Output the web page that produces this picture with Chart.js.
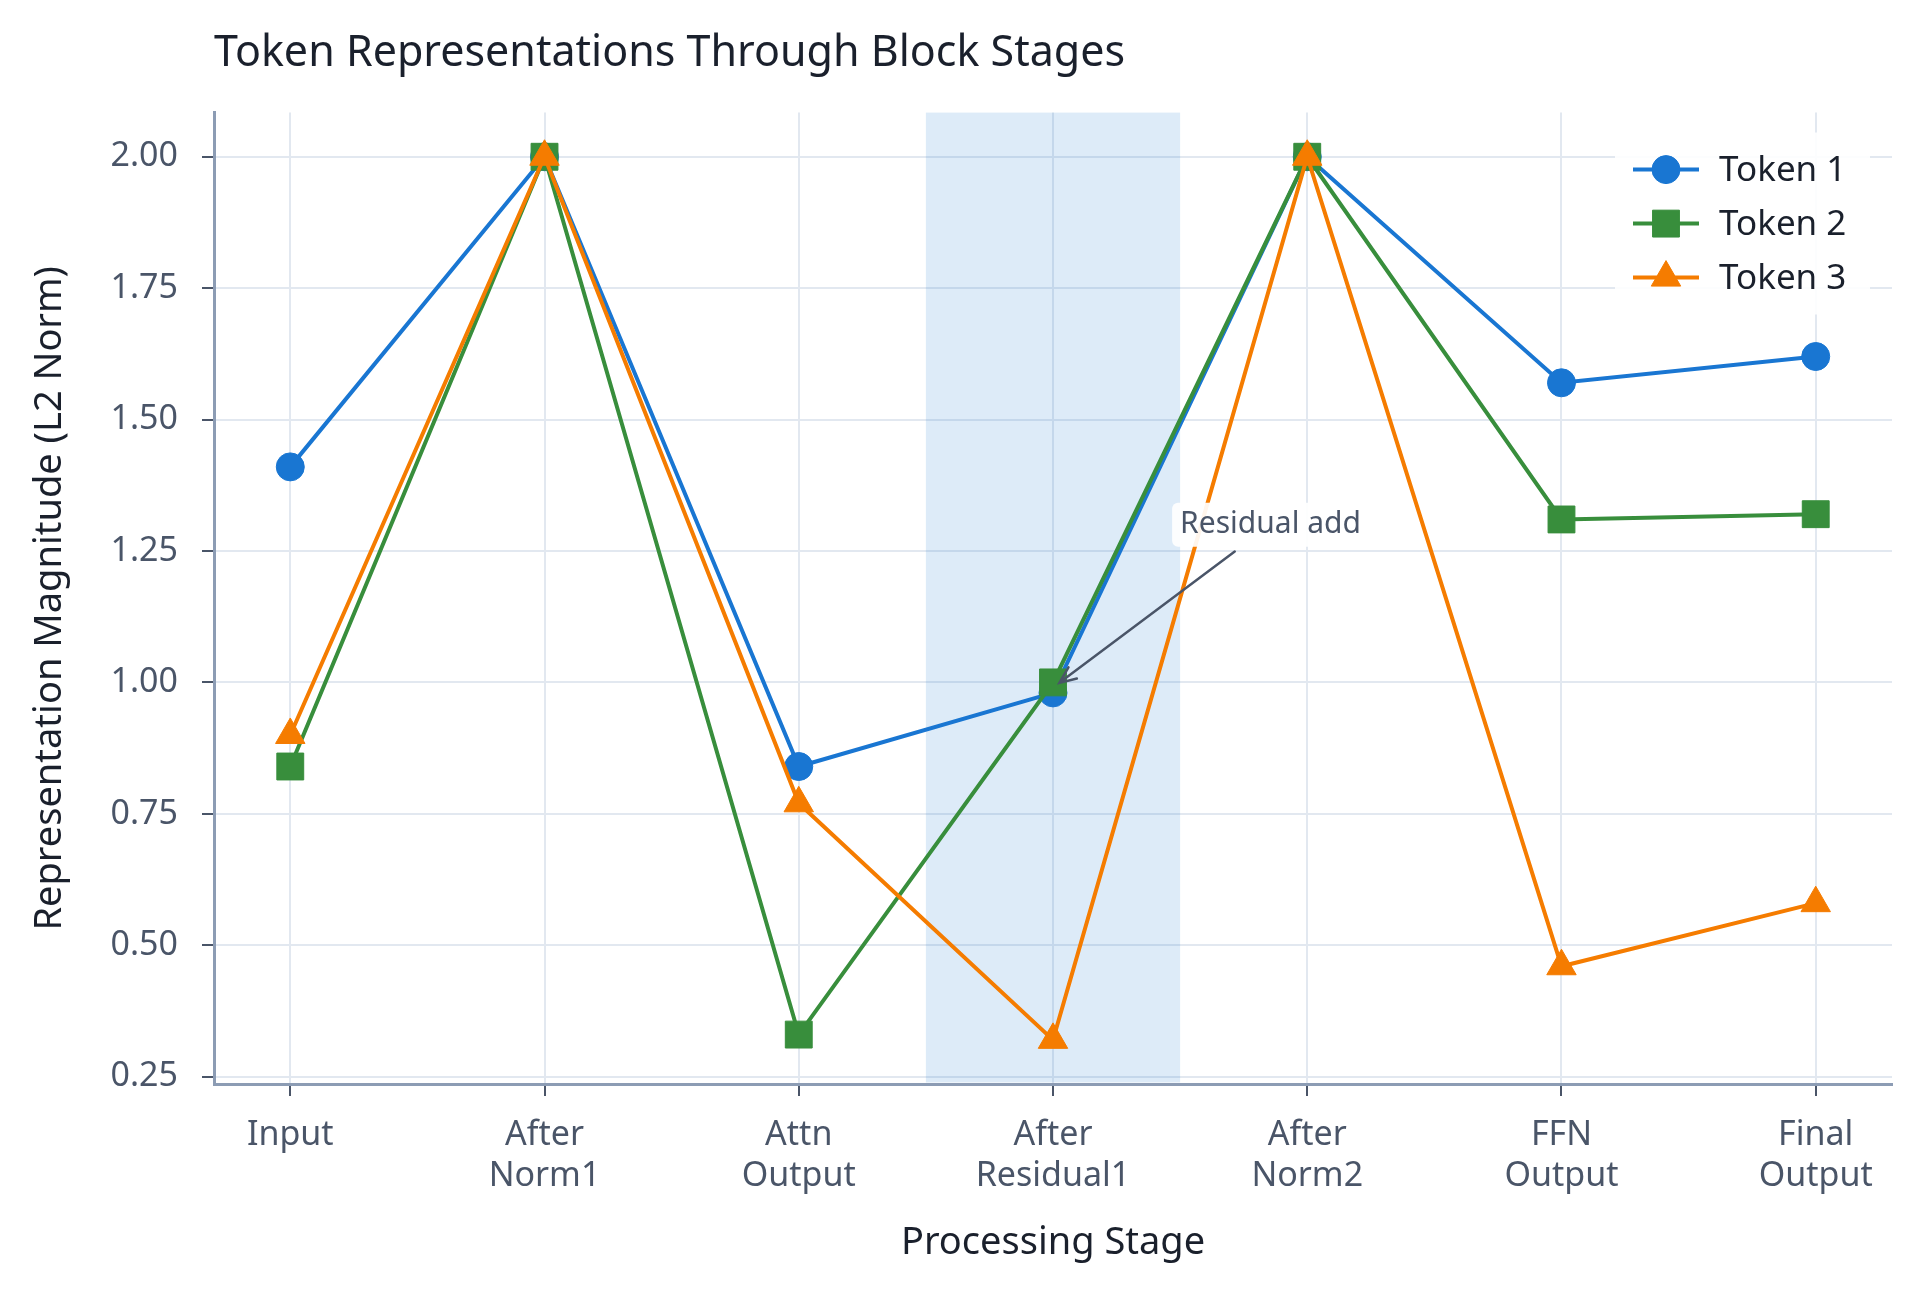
<!DOCTYPE html>
<html>
<head>
<meta charset="utf-8">
<title>Token Representations Through Block Stages</title>
<script src="https://cdn.jsdelivr.net/npm/chart.js@4.4.1/dist/chart.umd.min.js"></script>
<style>
    body { margin: 0; background: #fff; }
    #wrap { width: 1920px; height: 1292px; }
</style>
</head>
<body>
<div id="wrap"><canvas id="tokenChart" width="1920" height="1292"></canvas></div>
<script>
// data
const stages = [
    ["Input"],
    ["After", "Norm1"],
    ["Attn", "Output"],
    ["After", "Residual1"],
    ["After", "Norm2"],
    ["FFN", "Output"],
    ["Final", "Output"]
];
const seriesNames = ["Token 1", "Token 2", "Token 3"];
const token1 = [1.41, 2.00, 0.84, 0.98, 2.00, 1.57, 1.62];
const token2 = [0.84, 2.00, 0.33, 1.00, 2.00, 1.31, 1.32];
const token3 = [0.90, 2.00, 0.77, 0.32, 2.00, 0.46, 0.58];
const yTicks = [0.25, 0.50, 0.75, 1.00, 1.25, 1.50, 1.75, 2.00];
const bandRange = [2.5, 3.5];
const noteText = "Residual add";
const notePoint = [3, 0.99];
const noteTextAt = [3.5, 1.3];

// styles
const colors = ["#1976D2", "#388E3C", "#F57C00"];
const markers = ["circle", "rect", "triangle"];
const markerRadius = [14, 19, 17];
const tickColor = "#4a5568";
const darkText = "#1a202c";
const gridColor = "#e2e8f0";
const spineColor = "#8c9cb4";

Chart.defaults.font.family = "'Noto Sans', sans-serif";

// shaded block around the residual stage
const bandPlugin = {
    id: "band",
    beforeDatasetsDraw(chart) {
        const { ctx, chartArea, scales: { x } } = chart;
        const x0 = x.getPixelForValue(bandRange[0]);
        const x1 = x.getPixelForValue(bandRange[1]);
        ctx.save();
        ctx.fillStyle = "rgba(25, 118, 210, 0.15)";
        ctx.fillRect(x0, chartArea.top, x1 - x0, chartArea.bottom - chartArea.top - 1.5);
        ctx.restore();
    }
};

// "Residual add" label with arrow
const notePlugin = {
    id: "note",
    afterDatasetsDraw(chart) {
        const { ctx, scales: { x, y } } = chart;
        const tx = x.getPixelForValue(noteTextAt[0]);
        const ty = y.getPixelForValue(noteTextAt[1]);
        const px = x.getPixelForValue(notePoint[0]);
        const py = y.getPixelForValue(notePoint[1]);

        ctx.save();
        ctx.font = "30px 'Noto Sans'";
        const w = ctx.measureText(noteText).width;
        const box = { l: tx - 8, t: ty - 22, w: w + 16, h: 44 };
        ctx.fillStyle = "rgba(255, 255, 255, 0.92)";
        ctx.beginPath();
        ctx.roundRect(box.l, box.t, box.w, box.h, 6);
        ctx.fill();
        ctx.fillStyle = tickColor;
        ctx.textBaseline = "middle";
        ctx.fillText(noteText, tx, ty);

        const cx = tx + w / 2, cy = ty;
        const dx = px - cx, dy = py - cy;
        const len = Math.hypot(dx, dy);
        const ux = dx / len, uy = dy / len;
        const tStart = (box.t + box.h - cy) / uy + 8;
        const sx = cx + ux * tStart, sy = cy + uy * tStart;
        const ex = px - ux * 8, ey = py - uy * 8;

        ctx.strokeStyle = tickColor;
        ctx.lineWidth = 2.5;
        ctx.lineCap = "round";
        ctx.beginPath();
        ctx.moveTo(sx, sy);
        ctx.lineTo(ex, ey);
        const ang = Math.atan2(dy, dx);
        const head = 18;
        ctx.moveTo(ex - head * Math.cos(ang - 0.4), ey - head * Math.sin(ang - 0.4));
        ctx.lineTo(ex, ey);
        ctx.lineTo(ex - head * Math.cos(ang + 0.4), ey - head * Math.sin(ang + 0.4));
        ctx.stroke();
        ctx.restore();
    }
};

// legend box in the upper right of the plot
const legendPlugin = {
    id: "boxLegend",
    afterDatasetsDraw(chart) {
        const { ctx, chartArea } = chart;
        const left = chartArea.right - 277;
        const top = chartArea.top + 20;
        ctx.save();
        ctx.fillStyle = "rgba(255, 255, 255, 0.9)";
        ctx.beginPath();
        ctx.roundRect(left, top, 255, 182, 6);
        ctx.fill();

        chart.data.datasets.forEach((ds, i) => {
            const rowY = top + 37 + i * 54;
            ctx.strokeStyle = ds.borderColor;
            ctx.lineWidth = 4;
            ctx.beginPath();
            ctx.moveTo(left + 18, rowY);
            ctx.lineTo(left + 84, rowY);
            ctx.stroke();
            ctx.fillStyle = ds.backgroundColor;
            ctx.lineWidth = 1;
            Chart.helpers.drawPoint(ctx, {
                pointStyle: ds.pointStyle,
                radius: ds.pointRadius,
                rotation: 0,
                borderWidth: 1
            }, left + 51, rowY);
            ctx.fillStyle = darkText;
            ctx.font = "35px 'Noto Sans'";
            ctx.textBaseline = "middle";
            ctx.fillText(ds.label, left + 104, rowY + 1);
        });
        ctx.restore();
    }
};

const seriesValues = [token1, token2, token3];

new Chart(document.getElementById("tokenChart"), {
    type: "line",
    data: {
        datasets: seriesNames.map((name, i) => ({
            label: name,
            data: seriesValues[i].map((v, k) => ({ x: k, y: v })),
            borderColor: colors[i],
            backgroundColor: colors[i],
            borderWidth: 4,
            pointStyle: markers[i],
            pointRadius: markerRadius[i],
            pointBorderWidth: 1,
            tension: 0,
            order: 2 - i
        }))
    },
    options: {
        responsive: false,
        animation: false,
        devicePixelRatio: 1,
        layout: { padding: { top: 0, right: 28, bottom: 0, left: 0 } },
        plugins: {
            legend: { display: false },
            tooltip: { enabled: false },
            title: {
                display: true,
                text: "Token Representations Through Block Stages",
                align: "start",
                fullSize: false,
                color: darkText,
                font: { size: 43, weight: "normal" },
                padding: { top: 28, bottom: 33 }
            }
        },
        scales: {
            x: {
                type: "linear",
                min: -0.3,
                max: 6.3,
                afterBuildTicks: scale => {
                    scale.ticks = stages.map((s, i) => ({ value: i }));
                },
                afterFit: scale => { scale.height = 208; },
                ticks: {
                    callback: v => stages[v],
                    color: tickColor,
                    font: { size: 34 },
                    padding: 19,
                    maxRotation: 0,
                    autoSkip: false
                },
                grid: { color: gridColor, lineWidth: 2, tickColor: tickColor, tickLength: 12, tickWidth: 2 },
                border: { color: spineColor, width: 3 },
                title: {
                    display: true,
                    text: "Processing Stage",
                    color: darkText,
                    font: { size: 38 },
                    padding: { top: 0, bottom: 26 }
                }
            },
            y: {
                min: 0.236,
                max: 2.084,
                afterBuildTicks: scale => {
                    scale.ticks = yTicks.map(v => ({ value: v }));
                },
                afterFit: scale => { scale.width = 214; },
                ticks: {
                    callback: v => v.toFixed(2),
                    color: tickColor,
                    font: { size: 34 },
                    padding: 24
                },
                grid: { color: gridColor, lineWidth: 2, tickColor: tickColor, tickLength: 12, tickWidth: 2 },
                border: { color: spineColor, width: 3 },
                title: {
                    display: true,
                    text: "Representation Magnitude (L2 Norm)",
                    color: darkText,
                    font: { size: 38 },
                    padding: { top: 27, bottom: 0 }
                }
            }
        }
    },
    plugins: [bandPlugin, notePlugin, legendPlugin]
});
</script>
</body>
</html>
